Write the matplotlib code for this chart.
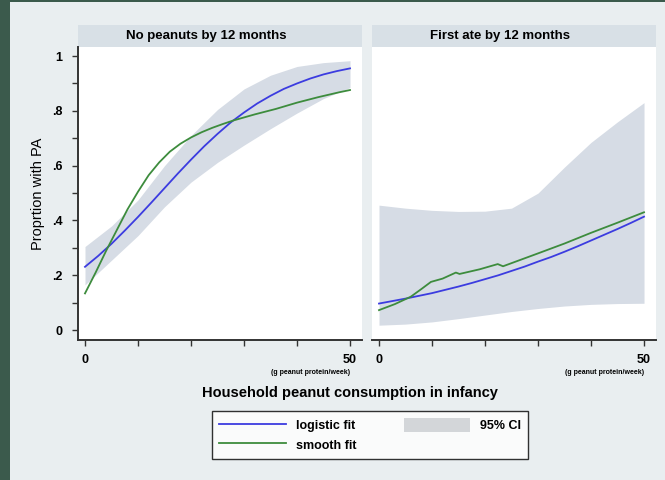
import matplotlib.pyplot as plt
from matplotlib.patches import Rectangle, Patch
from matplotlib.lines import Line2D

panel_titles = ['No peanuts by 12 months', 'First ate by 12 months']

# logistic fit, read every 2.5 g
x_fit = [0, 2.5, 5, 7.5, 10, 12.5, 15, 17.5, 20, 22.5, 25,
         27.5, 30, 32.5, 35, 37.5, 40, 42.5, 45, 47.5, 50]
no_logistic = [0.231, 0.271, 0.315, 0.363, 0.413, 0.465, 0.518, 0.571, 0.622, 0.671, 0.716,
               0.758, 0.794, 0.827, 0.855, 0.880, 0.900, 0.918, 0.933, 0.945, 0.955]
first_logistic = [0.097, 0.106, 0.115, 0.125, 0.135, 0.147, 0.159, 0.172, 0.186, 0.200, 0.216,
                  0.232, 0.250, 0.267, 0.286, 0.306, 0.327, 0.348, 0.369, 0.391, 0.414]

# 95% CI band, read every 5 g
x_ci = [0, 5, 10, 15, 20, 25, 30, 35, 40, 45, 50]
no_ci_lo = [0.165, 0.255, 0.345, 0.450, 0.540, 0.612, 0.675, 0.735, 0.792, 0.845, 0.885]
no_ci_hi = [0.305, 0.380, 0.475, 0.600, 0.710, 0.805, 0.880, 0.930, 0.962, 0.976, 0.983]
first_ci_lo = [0.018, 0.022, 0.030, 0.042, 0.055, 0.068, 0.079, 0.088, 0.094, 0.097, 0.098]
first_ci_hi = [0.456, 0.445, 0.437, 0.433, 0.434, 0.445, 0.500, 0.595, 0.685, 0.760, 0.830]

# smooth fit
x_smooth_no = [0, 2, 4, 6, 8, 10, 12, 14, 16, 18, 20, 22, 24, 26, 28,
               32, 36, 40, 44, 48, 50]
no_smooth = [0.134, 0.210, 0.290, 0.365, 0.440, 0.505, 0.565, 0.612, 0.651, 0.680, 0.703,
             0.722, 0.738, 0.752, 0.765, 0.787, 0.807, 0.830, 0.850, 0.868, 0.876]
x_smooth_first = [0, 3, 6, 8, 9.8, 12, 14.5, 15.2, 19, 22.4, 23.4, 30, 35, 40, 45, 50]
first_smooth = [0.073, 0.095, 0.122, 0.150, 0.176, 0.188, 0.210, 0.205, 0.222, 0.241, 0.233,
                0.280, 0.316, 0.355, 0.392, 0.430]

x_ticks = [0, 10, 20, 30, 40, 50]
x_ticklabels = ['0', '', '', '', '', '50']
y_ticks = [0, 0.1, 0.2, 0.3, 0.4, 0.5, 0.6, 0.7, 0.8, 0.9, 1.0]
y_ticklabels = ['0', '', '.2', '', '.4', '', '.6', '', '.8', '', '1']

blue = '#3c3ce0'
green = '#3d8c3d'
band = '#d6dce5'
bg = '#e9eef0'
strip = '#d8e0e6'

plt.rcParams['font.family'] = ['Liberation Sans', 'DejaVu Sans']

fig = plt.figure(figsize=(6.65, 4.8), dpi=100, facecolor=bg)
W, H = 665.0, 480.0

# dark frame edges of the screenshot
fig.patches.append(Rectangle((0, 0), 10 / W, 1, transform=fig.transFigure,
                             facecolor='#3b5a4c', edgecolor='none', zorder=0))
fig.patches.append(Rectangle((0, 1 - 2 / H), 1, 2 / H, transform=fig.transFigure,
                             facecolor='#3b5a4c', edgecolor='none', zorder=0))

panels = [
    (78, no_logistic, no_ci_lo, no_ci_hi, x_smooth_no, no_smooth),
    (372, first_logistic, first_ci_lo, first_ci_hi, x_smooth_first, first_smooth),
]
top, bottom = 47, 340
for i, (left, logi, lo, hi, xs, sm) in enumerate(panels):
    ax = fig.add_axes([left / W, 1 - bottom / H, 284 / W, (bottom - top) / H])
    ax.set_facecolor('white')
    ax.fill_between(x_ci, lo, hi, color=band, lw=0)
    ax.plot(x_fit, logi, color=blue, lw=1.3)
    ax.plot(xs, sm, color=green, lw=1.3)
    ax.set_xlim(-1.32, 52.26)
    ax.set_ylim(-0.036, 1.033)
    for s in ['top', 'right']:
        ax.spines[s].set_visible(False)
    ax.spines['bottom'].set_color('#333333')
    ax.spines['bottom'].set_linewidth(1.4)
    ax.set_xticks(x_ticks)
    ax.set_xticklabels(x_ticklabels, fontsize=9, fontweight='bold')
    ax.tick_params(axis='x', direction='out', length=4, width=1, color='#333333', pad=6)
    if i == 0:
        ax.spines['left'].set_color('#333333')
        ax.spines['left'].set_linewidth(1.4)
        ax.set_yticks(y_ticks)
        ax.set_yticklabels(y_ticklabels, fontsize=9, fontweight='bold')
        ax.tick_params(axis='y', direction='out', length=4, width=1, color='#333333', pad=7)
        ax.set_ylabel('Proprtion with PA', fontsize=10.5, labelpad=5)
    else:
        ax.spines['left'].set_visible(False)
        ax.set_yticks([])
    # strip title
    ax.add_patch(Rectangle((0, 1), 1, 22 / (bottom - top), transform=ax.transAxes,
                           facecolor=strip, edgecolor='none', clip_on=False))
    ax.text(0.45, 1 + 11 / (bottom - top), panel_titles[i], transform=ax.transAxes,
            ha='center', va='center', fontsize=9.5, fontweight='bold')
    ax.text(1 - 12 / 284, -32 / (bottom - top), '(g peanut protein/week)',
            transform=ax.transAxes, ha='right', va='center', fontsize=5, fontweight='bold')

fig.text(350 / W, 1 - 393 / H, 'Household peanut consumption in infancy',
         ha='center', va='center', fontsize=10.5, fontweight='bold')

handles = [Line2D([], [], color=blue, lw=1.3), Line2D([], [], color=green, lw=1.3),
           Patch(facecolor='#d3d6d9', edgecolor='none')]
leg = fig.legend(handles, ['logistic fit', 'smooth fit', '95% CI'], ncol=2,
                 loc='center', bbox_to_anchor=(370 / W, 1 - 435 / H),
                 prop={'size': 9, 'weight': 'bold'}, fancybox=False,
                 frameon=True, handlelength=5.3, handleheight=1.3, columnspacing=3.8,
                 borderpad=0.55, labelspacing=0.45, handletextpad=0.8)
leg.get_frame().set_edgecolor('black')
leg.get_frame().set_linewidth(1)

plt.savefig('out.png', dpi=100, facecolor=bg)
